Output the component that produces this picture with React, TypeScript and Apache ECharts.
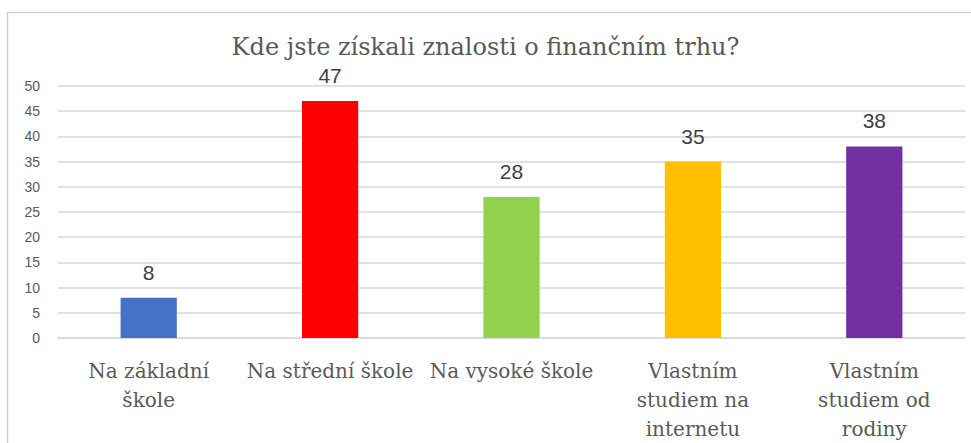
import React, { useEffect, useRef } from "react";
import * as echarts from "echarts";

const title = "Kde jste získali znalosti o finančním trhu?";
const categories = [
  "Na základní\nškole",
  "Na střední škole",
  "Na vysoké škole",
  "Vlastním\nstudiem na\ninternetu",
  "Vlastním\nstudiem od\nrodiny",
];
const values = [8, 47, 28, 35, 38];
const colors = ["#4472C4", "#FF0000", "#92D050", "#FFC000", "#7030A0"];

export default function App() {
  const ref = useRef<HTMLDivElement>(null);
  useEffect(() => {
    if (!ref.current) return;
    const chart = echarts.init(ref.current, undefined, { renderer: "svg" });
    chart.setOption({
      animation: false,
      backgroundColor: "#ffffff",
      graphic: [
        {
          type: "rect",
          left: 5,
          top: 10,
          shape: { width: 1000, height: 500 },
          style: { fill: "none", stroke: "#d0d0d0", lineWidth: 1.5 },
          silent: true,
        },
      ],
      title: {
        text: title,
        left: "center",
        top: 30,
        textStyle: {
          fontFamily: "DejaVu Serif",
          fontWeight: "normal",
          fontSize: 24,
          color: "#595959",
        },
      },
      grid: { left: 58, right: 6, top: 86, bottom: 105 },
      xAxis: {
        type: "category",
        data: categories,
        axisLine: { show: true, lineStyle: { color: "#d9d9d9", width: 1.5 } },
        axisTick: { show: false },
        axisLabel: {
          interval: 0,
          margin: 18,
          fontFamily: "DejaVu Serif",
          fontSize: 20,
          lineHeight: 29,
          color: "#595959",
        },
      },
      yAxis: {
        type: "value",
        min: 0,
        max: 50,
        interval: 5,
        axisLine: { show: false },
        axisTick: { show: false },
        splitLine: { lineStyle: { color: "#d9d9d9", width: 1.5 } },
        axisLabel: {
          margin: 18,
          fontFamily: "Liberation Sans",
          fontSize: 14,
          color: "#595959",
        },
      },
      series: [
        {
          type: "bar",
          barWidth: "31%",
          data: values.map((v, i) => ({ value: v, itemStyle: { color: colors[i] } })),
          label: {
            show: true,
            position: "top",
            distance: 15,
            fontFamily: "Liberation Sans",
            fontSize: 21,
            color: "#404040",
          },
        },
      ],
    });
    return () => chart.dispose();
  }, []);
  return (
    <div
      ref={ref}
      style={{ position: "fixed", left: 0, top: 0, width: 971, height: 443 }}
    />
  );
}
